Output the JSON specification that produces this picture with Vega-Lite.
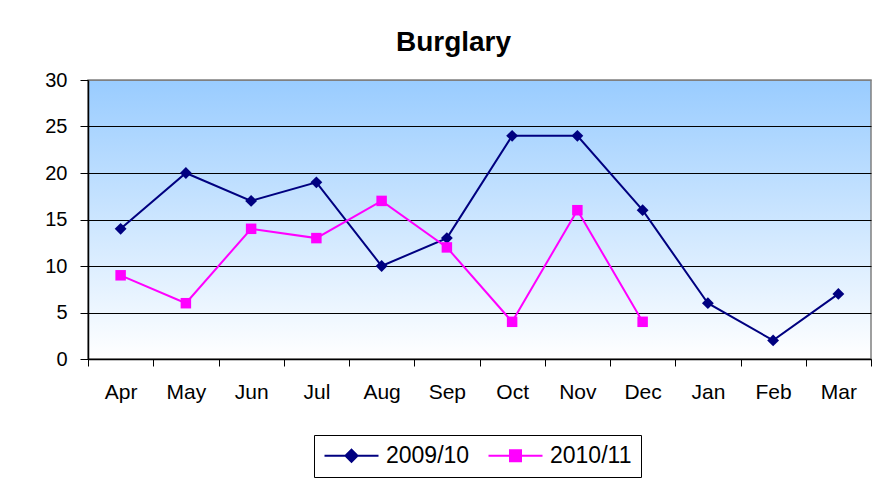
{
  "$schema": "https://vega.github.io/schema/vega-lite/v6.json",
  "width": 783,
  "height": 279,
  "autosize": "none",
  "padding": {"left": 88, "top": 80, "right": 16, "bottom": 123},
  "background": "white",
  "title": {
    "text": "Burglary",
    "font": "Liberation Sans",
    "fontSize": 28,
    "fontWeight": "bold",
    "color": "black",
    "anchor": "middle",
    "baseline": "alphabetic",
    "offset": -9,
    "dx": -26
  },
  "config": {
    "view": {
      "stroke": "#808080",
      "strokeWidth": 1.5,
      "fill": {
        "gradient": "linear",
        "x1": 0, "y1": 0, "x2": 0, "y2": 1,
        "stops": [
          {"offset": 0, "color": "#99CCFF"},
          {"offset": 1, "color": "#FFFFFF"}
        ]
      }
    },
    "axis": {
      "labelFont": "Liberation Sans",
      "labelColor": "black",
      "domainColor": "black",
      "tickColor": "black",
      "title": null
    }
  },
  "data": {
    "values": [
      {"month": "Apr", "series": "2009/10", "value": 14},
      {"month": "May", "series": "2009/10", "value": 20},
      {"month": "Jun", "series": "2009/10", "value": 17},
      {"month": "Jul", "series": "2009/10", "value": 19},
      {"month": "Aug", "series": "2009/10", "value": 10},
      {"month": "Sep", "series": "2009/10", "value": 13},
      {"month": "Oct", "series": "2009/10", "value": 24},
      {"month": "Nov", "series": "2009/10", "value": 24},
      {"month": "Dec", "series": "2009/10", "value": 16},
      {"month": "Jan", "series": "2009/10", "value": 6},
      {"month": "Feb", "series": "2009/10", "value": 2},
      {"month": "Mar", "series": "2009/10", "value": 7},
      {"month": "Apr", "series": "2010/11", "value": 9},
      {"month": "May", "series": "2010/11", "value": 6},
      {"month": "Jun", "series": "2010/11", "value": 14},
      {"month": "Jul", "series": "2010/11", "value": 13},
      {"month": "Aug", "series": "2010/11", "value": 17},
      {"month": "Sep", "series": "2010/11", "value": 12},
      {"month": "Oct", "series": "2010/11", "value": 4},
      {"month": "Nov", "series": "2010/11", "value": 16},
      {"month": "Dec", "series": "2010/11", "value": 4}
    ]
  },
  "encoding": {
    "x": {
      "field": "month",
      "type": "nominal",
      "sort": ["Apr", "May", "Jun", "Jul", "Aug", "Sep", "Oct", "Nov", "Dec", "Jan", "Feb", "Mar"],
      "scale": {"type": "band", "paddingInner": 0, "paddingOuter": 0},
      "axis": {
        "tickBand": "extent",
        "tickSize": 7,
        "labelAngle": 0,
        "labelFontSize": 21,
        "labelPadding": 15,
        "grid": false,
        "domainWidth": 1.5
      }
    },
    "y": {
      "field": "value",
      "type": "quantitative",
      "scale": {"domain": [0, 30], "nice": false},
      "axis": {
        "values": [0, 5, 10, 15, 20, 25, 30],
        "tickSize": 8,
        "labelFontSize": 20,
        "labelPadding": 13,
        "grid": true,
        "gridColor": {"condition": {"test": "datum.value === 30", "value": "#808080"}, "value": "black"},
        "gridOpacity": 1,
        "gridWidth": 1,
        "domainWidth": 1.5
      }
    },
    "color": {
      "field": "series",
      "type": "nominal",
      "scale": {"domain": ["2009/10", "2010/11"], "range": ["#000080", "#FF00FF"]},
      "legend": {
        "title": null,
        "orient": "none",
        "legendX": 226,
        "legendY": 355,
        "direction": "horizontal",
        "strokeColor": "black",
        "fillColor": "white",
        "padding": 9,
        "labelFont": "Liberation Sans",
        "labelFontSize": 23,
        "labelColor": "black",
        "labelOffset": 40,
        "columnPadding": 14,
        "symbolSize": 400,
        "symbolStrokeWidth": 2,
        "encode": {
          "symbols": {
            "update": {
              "shape": {"signal": "datum.value === '2009/10' ? 'M-1,0H4.4M1.1,0L1.7,-0.6L2.3,0L1.7,0.6Z' : 'M-1,0H4.4M1.15,-0.55H2.25V0.55H1.15Z'"},
              "fill": {"signal": "datum.value === '2009/10' ? '#000080' : '#FF00FF'"},
              "stroke": {"signal": "datum.value === '2009/10' ? '#000080' : '#FF00FF'"},
              "strokeWidth": {"value": 2},
              "opacity": {"value": 1},
              "fillOpacity": {"value": 1}
            }
          }
        }
      }
    }
  },
  "layer": [
    {
      "mark": {"type": "line", "strokeWidth": 2}
    },
    {
      "transform": [{"filter": "datum.series === '2009/10'"}],
      "mark": {"type": "point", "filled": true, "opacity": 1, "shape": "diamond", "size": 140}
    },
    {
      "transform": [{"filter": "datum.series === '2010/11'"}],
      "mark": {"type": "point", "filled": true, "opacity": 1, "shape": "square", "size": 110}
    }
  ]
}
